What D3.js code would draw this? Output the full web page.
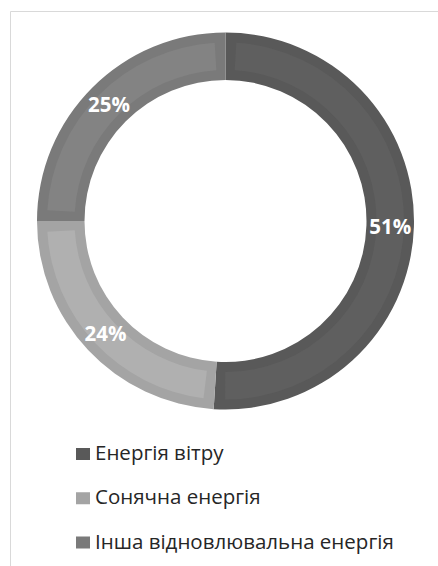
<!DOCTYPE html>
<html>
<head>
<meta charset="utf-8">
<script src="https://cdn.jsdelivr.net/npm/d3@7"></script>
<style>
  html, body { margin: 0; padding: 0; background: #fff; }
  svg { display: block; }
</style>
</head>
<body>
<svg id="chart" width="438" height="566"></svg>
<script>
const categories = ["Енергія вітру", "Сонячна енергія", "Інша відновлювальна енергія"];
const values = [51, 24, 25];
const valueLabels = ["51%", "24%", "25%"];
const outerColors = ["#595959", "#a4a4a4", "#7a7a7a"];
const innerColors = ["#5f5f5f", "#b0b0b0", "#838383"];

const svg = d3.select("#chart");

// frame
svg.append("line").attr("x1", 10.5).attr("y1", 11.5).attr("x2", 438).attr("y2", 11.5)
  .attr("stroke", "#d9d9d9").attr("stroke-width", 1);
svg.append("line").attr("x1", 10.5).attr("y1", 11.5).attr("x2", 10.5).attr("y2", 566)
  .attr("stroke", "#d9d9d9").attr("stroke-width", 1);

const cx = 225.5, cy = 221;
const rOuter = 188.5, rInner = 141;
const inset = 10;

const pie = d3.pie().sort(null).value(d => d);
const arcs = pie(values);

const arcMain = d3.arc().innerRadius(rInner).outerRadius(rOuter);
const rMid = (rInner + rOuter) / 2;
const angInset = inset / rMid;
const arcInner = d3.arc().innerRadius(rInner + inset).outerRadius(rOuter - inset);

const g = svg.append("g").attr("transform", `translate(${cx},${cy})`);

g.selectAll("path.outer").data(arcs).enter().append("path")
  .attr("class", "outer")
  .attr("d", arcMain)
  .attr("fill", (d, i) => outerColors[i]);

g.selectAll("path.inner").data(arcs).enter().append("path")
  .attr("class", "inner")
  .attr("d", d => arcInner({startAngle: d.startAngle + angInset, endAngle: d.endAngle - angInset}))
  .attr("fill", (d, i) => innerColors[i]);

g.selectAll("text.lbl").data(arcs).enter().append("text")
  .attr("class", "lbl")
  .attr("transform", d => `translate(${arcMain.centroid(d)})`)
  .attr("text-anchor", "middle")
  .attr("dy", "0.36em")
  .attr("font-family", "'Open Sans', sans-serif")
  .attr("font-weight", "bold")
  .attr("font-size", 20.5)
  .attr("fill", "#ffffff")
  .text((d, i) => valueLabels[i]);

// legend
const legendY = d3.scalePoint().domain(categories).range([460, 548.5]);
const legend = svg.append("g").selectAll("g").data(categories).enter().append("g")
  .attr("transform", d => `translate(0,${legendY(d)})`);
legend.append("rect")
  .attr("x", 76).attr("y", -12).attr("width", 14).attr("height", 12)
  .attr("fill", (d, i) => outerColors[i]);
legend.append("text")
  .attr("x", 95).attr("y", 0)
  .attr("font-family", "'Open Sans', sans-serif")
  .attr("font-size", 20.5)
  .attr("fill", "#262626")
  .text(d => d);
</script>
</body>
</html>
